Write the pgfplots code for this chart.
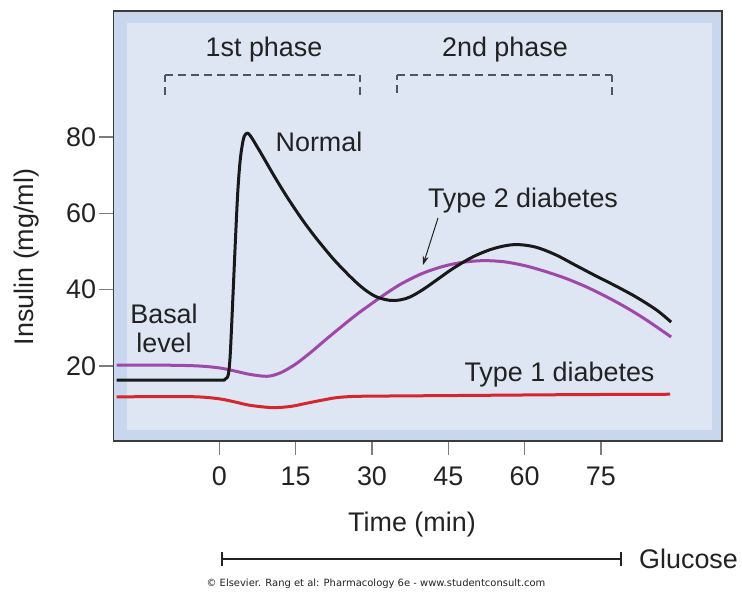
\documentclass[border=0pt]{standalone}
\usepackage{fontspec}
\setmainfont{Liberation Sans}
\newfontfamily\verd{DejaVu Sans}
\usepackage{pgfplots}
\pgfplotsset{compat=1.18}
\usetikzlibrary{arrows.meta}
\definecolor{band}{RGB}{200,215,238}
\definecolor{innerc}{RGB}{222,230,244}
\definecolor{txt}{RGB}{34,34,34}
\definecolor{crvblack}{RGB}{25,25,25}
\definecolor{crvpurple}{RGB}{158,72,170}
\definecolor{crvred}{RGB}{214,38,45}
\definecolor{framec}{RGB}{60,60,60}
\definecolor{tickc}{RGB}{125,125,125}
\definecolor{dashc}{RGB}{80,85,95}

\pgfplotstableread{
t v
-20.2 16.3
-10 16.3
0 16.3
1.0 16.4
1.5 16.9
1.8 18.0
2.1 22
2.4 30
2.8 42
3.2 54
3.6 65
4.0 72.5
4.4 77
4.9 80.2
5.6 81.0
6.3 79.9
7.0 78.4
8.6 74.8
10.9 69.5
13.3 64.3
15.9 59.1
17.8 55.6
19.8 52.2
22.7 47.6
26.2 42.8
28.6 40.0
30.9 38.1
33.5 37.2
35.5 37.3
37.5 38.1
40 40.0
43 42.8
46 45.6
50 48.7
54 50.8
58 51.8
62 51.2
66 49.2
70 46.4
74 43.6
78 40.9
82 38.0
86 34.6
88.8 31.5
}\normal

\pgfplotstableread{
t v
-20.2 20.2
-10 20.2
-4 20.0
0 19.5
3 18.7
6 17.8
9.4 17.3
12 18.2
15 20.5
18 23.6
21 27
24 30.3
27 33.5
30 36.4
33 39.2
36 41.7
40 44.3
44 46.1
48 47.2
52 47.6
56 47.3
60 46.3
64 44.8
68 43.0
72 40.8
76 38.2
80 35.3
84 32.0
88.8 27.6
}\typetwo

\pgfplotstableread{
t v
-20.2 11.9
-10 12.0
-4 11.9
0 11.4
3 10.6
6 9.7
10.4 9.1
14 9.4
17 10.2
20 11.0
23 11.7
26 12.0
30 12.1
50 12.3
70 12.5
88.6 12.6
}\typeone

\begin{document}
\begin{tikzpicture}
\path[use as bounding box] (0,0) rectangle (742bp,594bp);
\begin{axis}[
 at={(113.5bp,153bp)}, anchor=south west,
 scale only axis, width=608.5bp, height=430bp,
 xmin=-20.8, xmax=98.8, ymin=0.35, ymax=113,
 axis background/.style={fill=band},
 axis line style={framec, line width=1.5bp},
 xtick={0,15,30,45,60,75}, ytick={20,40,60,80},
 tick align=outside, xtick pos=left, ytick pos=left,
 major tick length=14bp,
 tick style={tickc, line width=1.2bp},
 tick label style={font=\fontsize{27}{32}\selectfont, text=txt},
 xticklabel style={yshift=-8bp},
 /pgf/number format/assume math mode=true,
 clip=false,
]
\fill[innerc] (rel axis cs:0.0222,0.0256) rectangle (rel axis cs:0.9836,0.9721);
\addplot[crvred, line width=3bp, smooth, tension=0.5] table[x=t,y=v] {\typeone};
\addplot[crvpurple, line width=3bp, smooth, tension=0.5] table[x=t,y=v] {\typetwo};
\addplot[crvblack, line width=3bp, smooth, tension=0.55, line join=round] table[x=t,y=v] {\normal};
\end{axis}
\begin{scope}[x=1bp,y=1bp, every node/.style={inner sep=0pt, text=txt, font=\fontsize{27}{32}\selectfont}]
% phase brackets
\tikzset{dsh/.style={dashc, line width=1.5bp, dash pattern=on 8bp off 5bp}}
\draw[dsh] (165,499) -- (165,519);
\draw[dsh] (165,519) -- (360,519);
\draw[dsh] (360,499) -- (360,519);
\draw[dsh] (397,501) -- (397,519);
\draw[dsh] (397,519) -- (612,519);
\draw[dsh] (612,499) -- (612,519);
\node[anchor=base] at (264,537) {1st phase};
\node[anchor=base] at (505,537) {2nd phase};
\node[anchor=base] at (319,442) {Normal};
\node[anchor=base] at (523,387) {Type 2 diabetes};
\draw[-{Stealth[length=9bp,width=6bp]}, line width=1bp, txt] (438,376) -- (423,329);
\node[anchor=base] at (164,271) {Basal};
\node[anchor=base] at (164,242) {level};
\node[anchor=base] at (559.5,213) {Type 1 diabetes};
% axis titles
\node[anchor=base] at (412,63) {Time (min)};
\node[anchor=base, rotate=90] at (33,337) {Insulin (mg/ml)};
% glucose bar
\draw[txt, line width=1.8bp] (222,35) -- (621,35);
\draw[txt, line width=1.8bp] (222,28) -- (222,42);
\draw[txt, line width=1.8bp] (621,28) -- (621,42);
\node[anchor=base west] at (639,26) {Glucose};
\node[anchor=base, font=\verd\fontsize{10}{12}\selectfont] at (376,8) {© Elsevier. Rang et al: Pharmacology 6e - www.studentconsult.com};
\end{scope}
\end{tikzpicture}
\end{document}
